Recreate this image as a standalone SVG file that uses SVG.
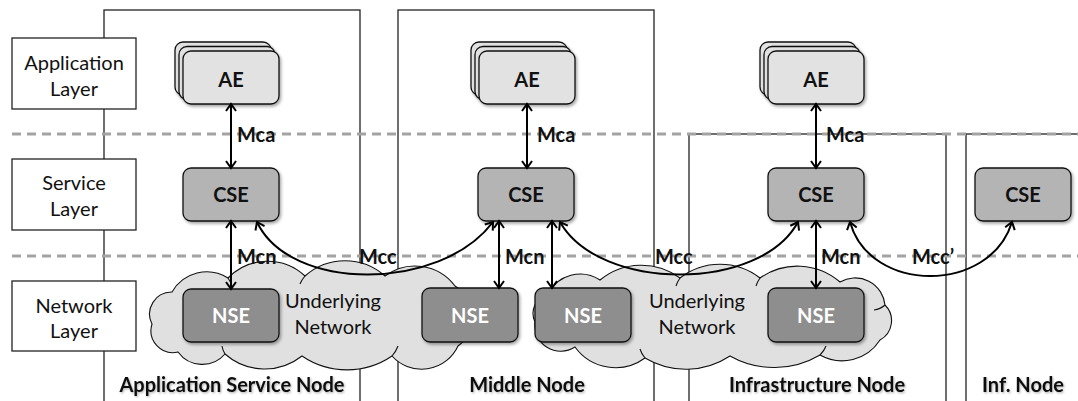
<svg xmlns="http://www.w3.org/2000/svg" width="1078" height="401" viewBox="0 0 1078 401">
  <defs>
    <filter id="boxShadow" x="-10%" y="-10%" width="130%" height="140%">
      <feDropShadow dx="1.5" dy="2" stdDeviation="1.4" flood-color="#000" flood-opacity="0.35"/>
    </filter>
    <filter id="textShadow" x="-5%" y="-20%" width="115%" height="150%">
      <feDropShadow dx="1" dy="1.2" stdDeviation="0.9" flood-color="#000" flood-opacity="0.3"/>
    </filter>
    <marker id="arrow" viewBox="-9 -7 11 14" refX="0" refY="0" markerWidth="11" markerHeight="14" orient="auto-start-reverse" markerUnits="userSpaceOnUse">
      <path d="M-7,-5 L0,0 L-7,5" fill="none" stroke="#000" stroke-width="2" stroke-linejoin="miter"/>
    </marker>
  </defs>
  <style>
    .frame { fill: none; stroke: #222; stroke-width: 1.3; }
    .layer { fill: #fff; stroke: #222; stroke-width: 1.3; }
    .layerText { font-family: Lato, "Liberation Sans", sans-serif; font-size: 20px; fill: #111; text-anchor: middle; }
    .divider { stroke: #a3a3a3; stroke-width: 3; stroke-dasharray: 9 6; fill: none; }
    .ae { fill: #e2e2e2; stroke: #111; stroke-width: 1.3; }
    .cse { fill: #b4b4b4; stroke: #111; stroke-width: 1.3; }
    .nse { fill: #8e8e8e; stroke: #111; stroke-width: 1.3; }
    .cloud { fill: #e0e0e0; stroke: #111; stroke-width: 1.1; }
    .cloudInner { fill: none; stroke: #111; stroke-width: 1.1; }
    .boxText { font-family: Lato, "Liberation Sans", sans-serif; font-weight: bold; font-size: 20px; fill: #111; text-anchor: middle; }
    .nseText { font-family: Lato, "Liberation Sans", sans-serif; font-weight: bold; font-size: 20px; fill: #fff; text-anchor: middle; }
    .netText { font-family: Lato, "Liberation Sans", sans-serif; font-size: 20px; fill: #111; text-anchor: middle; }
    .nodeLabel { font-family: Lato, "Liberation Sans", sans-serif; font-weight: bold; font-size: 20px; fill: #111; text-anchor: middle; }
    .ifLabel { font-family: Lato, "Liberation Sans", sans-serif; font-weight: bold; font-size: 20px; fill: #111; }
    .link { fill: none; stroke: #000; stroke-width: 2; marker-start: url(#arrow); marker-end: url(#arrow); }
  </style>

  <rect width="1078" height="401" fill="#fff"/>

  <!-- oneM2M node frames -->
  <g id="node-asn">
    <rect class="frame" x="104" y="10" width="256" height="400"/>
  </g>
  <g id="node-mn">
    <rect class="frame" x="398" y="10" width="256" height="400"/>
  </g>
  <g id="node-in">
    <rect class="frame" x="689" y="134" width="257" height="280"/>
  </g>
  <g id="node-inf">
    <rect class="frame" x="966" y="134" width="130" height="280"/>
  </g>

  <!-- layer separators -->
  <g id="dividers">
    <line class="divider" x1="12" y1="134" x2="1078" y2="134"/>
    <line class="divider" x1="12" y1="256" x2="1078" y2="256"/>
  </g>

  <!-- layer captions -->
  <g id="layer-application">
    <rect class="layer" x="12" y="38" width="124" height="71"/>
    <text class="layerText" x="74" y="70">Application</text>
    <text class="layerText" x="74" y="96">Layer</text>
  </g>
  <g id="layer-service">
    <rect class="layer" x="12" y="159" width="124" height="71"/>
    <text class="layerText" x="74" y="190">Service</text>
    <text class="layerText" x="74" y="216">Layer</text>
  </g>
  <g id="layer-network">
    <rect class="layer" x="12" y="281" width="124" height="70"/>
    <text class="layerText" x="74" y="313">Network</text>
    <text class="layerText" x="74" y="338">Layer</text>
  </g>

  <!-- underlying networks -->
  <g id="network-1">
    <path class="cloud" d="M178,352 A22,22 0 0 1 152,324 A22,22 0 0 1 172,292 A40,40 0 0 1 228,278 A55,55 0 0 1 305,276 A60,60 0 0 1 385,276 A50,50 0 0 1 455,286 A36,36 0 0 1 458,346 A40,40 0 0 1 392,356 A80,80 0 0 1 302,356 A60,60 0 0 1 225,354 A30,30 0 0 1 178,352 Z"/>
    <path class="cloudInner" d="M228,278 A30,30 0 0 1 232,286 M305,276 A30,30 0 0 0 300,284 M392,356 A30,30 0 0 0 398,346 M225,354 A20,20 0 0 1 222,346"/>
    <text class="netText" x="333" y="308">Underlying</text>
    <text class="netText" x="333" y="334">Network</text>
  </g>
  <g id="network-2">
    <path class="cloud" d="M575,347 A26,26 0 0 1 535,322 A20,20 0 0 1 548,294 A36,36 0 0 1 600,280 A65,65 0 0 1 680,278 A65,65 0 0 1 760,278 A65,65 0 0 1 840,282 A30,30 0 0 1 885,305 A22,22 0 0 1 880,340 A45,45 0 0 1 820,355 A90,90 0 0 1 730,356 A80,80 0 0 1 645,358 A50,50 0 0 1 575,347 Z"/>
    <path class="cloudInner" d="M680,278 A30,30 0 0 0 676,286 M760,278 A30,30 0 0 0 756,286 M885,305 A20,20 0 0 1 874,310 M820,355 A25,25 0 0 0 826,346 M645,358 A25,25 0 0 1 640,349"/>
    <text class="netText" x="697" y="308">Underlying</text>
    <text class="netText" x="697" y="334">Network</text>
  </g>

  <!-- application entities -->
  <g id="ae-asn">
    <rect class="ae" x="175" y="42" width="96" height="53" rx="8" filter="url(#boxShadow)"/>
    <rect class="ae" x="179" y="46.5" width="96" height="53" rx="8" filter="url(#boxShadow)"/>
    <rect class="ae" x="183" y="51" width="96" height="53" rx="8" filter="url(#boxShadow)"/>
    <text class="boxText" x="231" y="87">AE</text>
  </g>
  <g id="ae-mn">
    <rect class="ae" x="471" y="42" width="96" height="53" rx="8" filter="url(#boxShadow)"/>
    <rect class="ae" x="475" y="46.5" width="96" height="53" rx="8" filter="url(#boxShadow)"/>
    <rect class="ae" x="479" y="51" width="96" height="53" rx="8" filter="url(#boxShadow)"/>
    <text class="boxText" x="527" y="87">AE</text>
  </g>
  <g id="ae-in">
    <rect class="ae" x="760" y="42" width="96" height="53" rx="8" filter="url(#boxShadow)"/>
    <rect class="ae" x="764" y="46.5" width="96" height="53" rx="8" filter="url(#boxShadow)"/>
    <rect class="ae" x="768" y="51" width="96" height="53" rx="8" filter="url(#boxShadow)"/>
    <text class="boxText" x="816" y="87">AE</text>
  </g>

  <!-- common service entities -->
  <g id="cse-asn">
    <rect class="cse" x="183" y="168" width="96" height="53" rx="8" filter="url(#boxShadow)"/>
    <text class="boxText" x="231" y="202">CSE</text>
  </g>
  <g id="cse-mn">
    <rect class="cse" x="478" y="168" width="96" height="53" rx="8" filter="url(#boxShadow)"/>
    <text class="boxText" x="526" y="202">CSE</text>
  </g>
  <g id="cse-in">
    <rect class="cse" x="768" y="168" width="96" height="53" rx="8" filter="url(#boxShadow)"/>
    <text class="boxText" x="816" y="202">CSE</text>
  </g>
  <g id="cse-inf">
    <rect class="cse" x="975" y="168" width="96" height="53" rx="8" filter="url(#boxShadow)"/>
    <text class="boxText" x="1023" y="202">CSE</text>
  </g>

  <!-- network service entities -->
  <g id="nse-asn">
    <rect class="nse" x="183" y="289" width="96" height="53" rx="8" filter="url(#boxShadow)"/>
    <text class="nseText" x="231" y="323">NSE</text>
  </g>
  <g id="nse-mn-1">
    <rect class="nse" x="422" y="288" width="96" height="54" rx="8" filter="url(#boxShadow)"/>
    <text class="nseText" x="470" y="323">NSE</text>
  </g>
  <g id="nse-mn-2">
    <rect class="nse" x="535" y="288" width="96" height="54" rx="8" filter="url(#boxShadow)"/>
    <text class="nseText" x="583" y="323">NSE</text>
  </g>
  <g id="nse-in">
    <rect class="nse" x="768" y="288" width="96" height="54" rx="8" filter="url(#boxShadow)"/>
    <text class="nseText" x="816" y="323">NSE</text>
  </g>

  <!-- reference points -->
  <g id="connectors">
    <line class="link" x1="231" y1="104" x2="231" y2="168"/>
    <line class="link" x1="527" y1="104" x2="527" y2="168"/>
    <line class="link" x1="816" y1="104" x2="816" y2="168"/>
    <line class="link" x1="231" y1="221" x2="231" y2="289"/>
    <line class="link" x1="499" y1="221" x2="499" y2="288"/>
    <line class="link" x1="552" y1="221" x2="552" y2="288"/>
    <line class="link" x1="816" y1="221" x2="816" y2="288"/>
    <path class="link" d="M257,222 C290,292 440,292 493,222"/>
    <path class="link" d="M560,222 C600,292 760,292 798,222"/>
    <path class="link" d="M850,222 C870,294 990,294 1012,222"/>
  </g>

  <!-- reference point names -->
  <g id="connector-labels">
    <text class="ifLabel" x="237" y="142">Mca</text>
    <text class="ifLabel" x="537" y="142">Mca</text>
    <text class="ifLabel" x="826" y="142">Mca</text>
    <text class="ifLabel" x="237" y="264">Mcn</text>
    <text class="ifLabel" x="505" y="264">Mcn</text>
    <text class="ifLabel" x="821" y="264">Mcn</text>
    <text class="ifLabel" x="359" y="264">Mcc</text>
    <text class="ifLabel" x="655" y="264">Mcc</text>
    <text class="ifLabel" x="912" y="264">Mcc’</text>
  </g>

  <!-- node names -->
  <g id="node-labels" filter="url(#textShadow)">
    <text class="nodeLabel" x="232" y="392">Application Service Node</text>
    <text class="nodeLabel" x="527" y="392">Middle Node</text>
    <text class="nodeLabel" x="817" y="392">Infrastructure Node</text>
    <text class="nodeLabel" x="1023" y="392">Inf. Node</text>
  </g>
</svg>
